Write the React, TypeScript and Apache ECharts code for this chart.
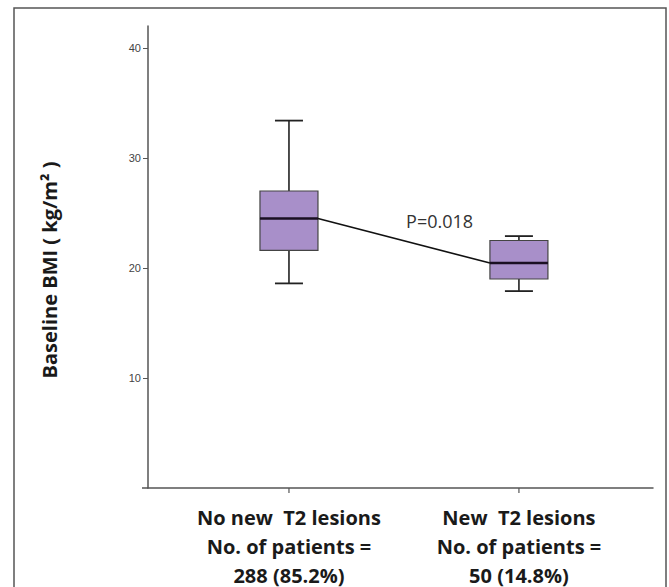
import React, { useEffect, useRef } from "react";
import * as echarts from "echarts";

const categories = [
  ["No new  T2 lesions", "No. of patients =", "288 (85.2%)"],
  ["New  T2 lesions", "No. of patients =", "50 (14.8%)"],
];
const positions = [1, 2];
// [min, Q1, median, Q3, max]
const boxValues = [
  [18.6, 21.6, 24.5, 27.0, 33.4],
  [17.9, 19.0, 20.45, 22.5, 22.9],
];
const yTicks = [10, 20, 30, 40];
const yTitle = "Baseline BMI ( kg/m² )";
const pLabel = { text: "P=0.018", x: 1.655, y: 24.3 };

export default function App() {
  const ref = useRef<HTMLDivElement>(null);
  useEffect(() => {
    if (!ref.current) return;
    const chart = echarts.init(ref.current, null, { renderer: "svg" });
    const boxHalf = 29;
    const capHalf = 14;
    chart.setOption({
      animation: false,
      backgroundColor: "#ffffff",
      grid: { left: 148, right: 16, top: 26, bottom: 99 },
      xAxis: {
        type: "value",
        min: 0.387,
        max: 2.583,
        interval: 1,
        axisLine: { show: true, lineStyle: { color: "#555", width: 1.5 } },
        axisTick: { show: false },
        axisLabel: { show: false },
        splitLine: { show: false },
      },
      yAxis: {
        type: "value",
        min: 0,
        max: 42,
        interval: 10,
        axisLine: { show: true, lineStyle: { color: "#555", width: 1.5 } },
        axisTick: { show: true, length: 5, lineStyle: { color: "#555" }, customValues: yTicks },
        axisLabel: {
          color: "#444",
          fontSize: 11,
          fontFamily: "Liberation Sans",
          margin: 7,
          customValues: yTicks,
        },
        splitLine: { show: false },
      },
      graphic: [
        {
          type: "rect",
          shape: { x: 14, y: 8, width: 652, height: 620 },
          style: { fill: "none", stroke: "#555", lineWidth: 1.5 },
          silent: true,
        },
        {
          type: "line",
          shape: { x1: 142, y1: 488, x2: 148, y2: 488 },
          style: { stroke: "#555", lineWidth: 1.5 },
          silent: true,
        },
        {
          type: "text",
          x: 49,
          y: 270,
          rotation: Math.PI / 2,
          style: {
            text: yTitle,
            fontFamily: "Open Sans",
            fontWeight: "bold",
            fontSize: 20,
            fill: "#1a1a1a",
            align: "center",
            verticalAlign: "middle",
          },
          silent: true,
        },
      ],
      series: [
        {
          type: "custom",
          data: boxValues.map((b, i) => [positions[i], ...b]),
          encode: { x: 0, y: [1, 2, 3, 4, 5] },
          renderItem: (params: any, api: any) => {
            const x = api.value(0);
            const vals = [1, 2, 3, 4, 5].map((d) => api.value(d));
            const pts = vals.map((v) => api.coord([x, v]));
            const cx = pts[0][0];
            const [pMin, pQ1, pMed, pQ3, pMax] = pts;
            const base = api.coord([x, 0])[1];
            const stroke = "#222";
            const children: any[] = [
              { type: "line", shape: { x1: cx, y1: pMax[1], x2: cx, y2: pQ3[1] }, style: { stroke, lineWidth: 1.6 } },
              { type: "line", shape: { x1: cx, y1: pQ1[1], x2: cx, y2: pMin[1] }, style: { stroke, lineWidth: 1.6 } },
              { type: "line", shape: { x1: cx - capHalf, y1: pMax[1], x2: cx + capHalf, y2: pMax[1] }, style: { stroke, lineWidth: 1.8 } },
              { type: "line", shape: { x1: cx - capHalf, y1: pMin[1], x2: cx + capHalf, y2: pMin[1] }, style: { stroke, lineWidth: 1.8 } },
              {
                type: "rect",
                shape: { x: cx - boxHalf, y: pQ3[1], width: boxHalf * 2, height: pQ1[1] - pQ3[1] },
                style: { fill: "#a88fc9", stroke: "#444", lineWidth: 1.2 },
              },
              { type: "line", shape: { x1: cx - boxHalf, y1: pMed[1], x2: cx + boxHalf, y2: pMed[1] }, style: { stroke: "#1a0f22", lineWidth: 2.6 } },
              { type: "line", shape: { x1: cx, y1: base, x2: cx, y2: base + 5 }, style: { stroke: "#555", lineWidth: 1.2 } },
            ];
            categories[params.dataIndex].forEach((line, k) => {
              children.push({
                type: "text",
                x: cx,
                y: base + 29 + k * 29,
                style: {
                  text: line,
                  fontFamily: "Open Sans",
                  fontWeight: "bold",
                  fontSize: 20,
                  lineHeight: 20,
                  fill: "#1a1a1a",
                  align: "center",
                  verticalAlign: "middle",
                },
              });
            });
            if (params.dataIndex === 1) {
              const prev = boxValues[0];
              const p0 = api.coord([positions[0], prev[2]]);
              children.push({
                type: "line",
                shape: { x1: p0[0] + boxHalf, y1: p0[1], x2: cx - boxHalf, y2: pMed[1] },
                style: { stroke: "#111", lineWidth: 1.6 },
              });
              const lp = api.coord([pLabel.x, pLabel.y]);
              children.push({
                type: "text",
                x: lp[0],
                y: lp[1],
                style: {
                  text: pLabel.text,
                  fontFamily: "Open Sans",
                  fontSize: 18,
                  fill: "#333",
                  align: "center",
                  verticalAlign: "middle",
                },
              });
            }
            return { type: "group", children };
          },
          clip: false,
          z: 5,
        },
      ],
    });
    return () => chart.dispose();
  }, []);
  return (
    <div
      ref={ref}
      style={{ position: "fixed", left: 0, top: 0, width: 669, height: 587 }}
    />
  );
}
